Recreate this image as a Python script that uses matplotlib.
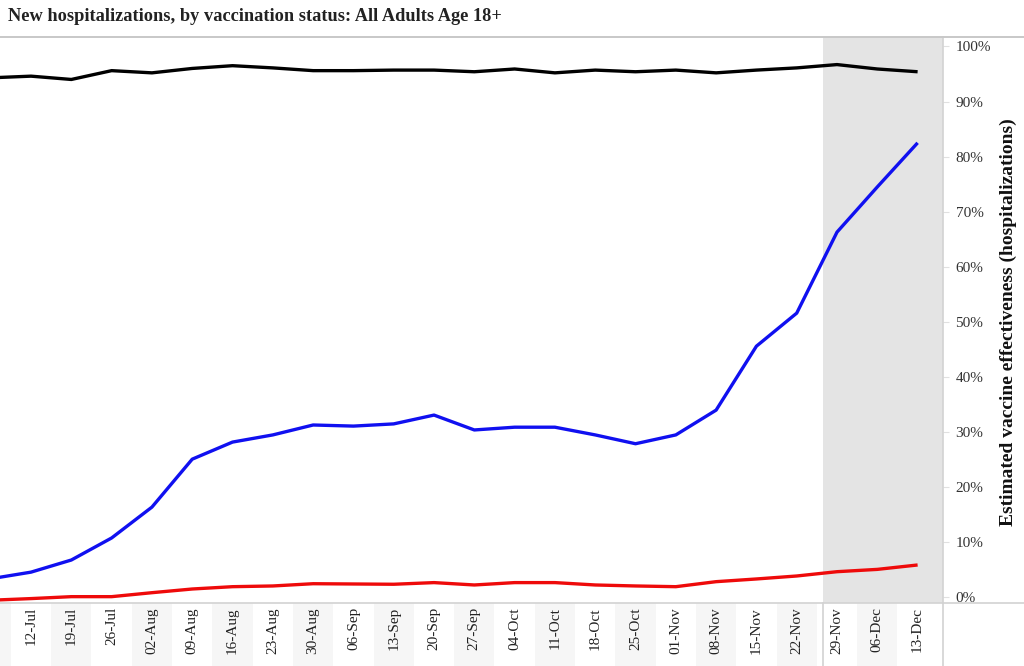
import matplotlib
matplotlib.use("Agg")
import matplotlib.pyplot as plt
from matplotlib.lines import Line2D
from matplotlib.patches import Rectangle

# weekly dates, first one (05-Jul) sits just off the left edge
WEEKS = ["05-Jul", "12-Jul", "19-Jul", "26-Jul", "02-Aug", "09-Aug", "16-Aug",
         "23-Aug", "30-Aug", "06-Sep", "13-Sep", "20-Sep", "27-Sep", "04-Oct",
         "11-Oct", "18-Oct", "25-Oct", "01-Nov", "08-Nov", "15-Nov", "22-Nov",
         "29-Nov", "06-Dec", "13-Dec"]

BLACK = [94.3, 94.6, 94.0, 95.6, 95.2, 96.0, 96.5, 96.1, 95.6, 95.6, 95.7, 95.7,
         95.4, 95.9, 95.2, 95.7, 95.4, 95.7, 95.2, 95.7, 96.1, 96.7, 95.9, 95.4]
BLUE = [3.4, 4.6, 6.8, 10.8, 16.4, 25.1, 28.2, 29.5, 31.3, 31.1, 31.5, 33.1,
        30.4, 30.9, 30.9, 29.5, 27.9, 29.5, 34.0, 45.6, 51.6, 66.3, 74.5, 82.5]
RED = [-0.5, -0.2, 0.15, 0.15, 0.87, 1.54, 1.96, 2.09, 2.5, 2.45, 2.4, 2.7,
       2.27, 2.7, 2.7, 2.27, 2.09, 1.96, 2.87, 3.36, 3.9, 4.68, 5.1, 5.9]

PCT_TICKS = list(range(0, 101, 10))
SHADE_FROM = 20.65  # partway between 22-Nov and 29-Nov

SERIF = "Liberation Serif"
GRID = "#d2d2d2"

fig = plt.figure(figsize=(10.24, 6.66), dpi=100)
ax = fig.add_axes([0, 0.0946, 0.9209, 0.8498])

x = list(range(len(WEEKS)))
ax.axvspan(SHADE_FROM, len(WEEKS) - 0.37, color="#e4e4e4", lw=0, zorder=0)
ax.plot(x, BLACK, color="#000000", lw=2.4, solid_capstyle="butt", zorder=3)
ax.plot(x, BLUE, color="#1010f0", lw=2.4, solid_capstyle="butt", zorder=3)
ax.plot(x, RED, color="#ee0a0a", lw=2.4, solid_capstyle="butt", zorder=3)

ax.set_xlim(0.23, len(WEEKS) - 0.37)
ax.set_ylim(-1.0, 101.7)

# alternating light bands behind the date labels
for i in range(0, len(WEEKS), 2):
    ax.add_patch(Rectangle((i - 0.5, -0.12), 1, 0.12, transform=ax.get_xaxis_transform(),
                           color="#f6f6f6", lw=0, clip_on=False, zorder=0))
ax.add_line(Line2D([SHADE_FROM, SHADE_FROM], [-0.12, 0], transform=ax.get_xaxis_transform(),
                   color=GRID, lw=1.2, clip_on=False))

# 05-Jul is cut off at the left edge, so only label from 12-Jul on
ax.set_xticks(x[1:])
ax.set_xticklabels(WEEKS[1:], rotation=90, fontfamily=SERIF, fontsize=11, color="#222")
ax.tick_params(axis="x", length=0, pad=3)

ax.yaxis.tick_right()
ax.set_yticks(PCT_TICKS)
ax.set_yticklabels([f"{t}%" for t in PCT_TICKS], fontfamily=SERIF, fontsize=11, color="#333")
ax.tick_params(axis="y", length=4, width=0.8, color="#e0e0e0", pad=5)

for s in ("top", "left", "bottom"):
    ax.spines[s].set_visible(False)
ax.spines["right"].set_color(GRID)
ax.spines["right"].set_linewidth(1.2)

# frame lines that run the full width of the figure
fig.add_artist(Line2D([0, 1], [0.9444, 0.9444], color="#c8c8c8", lw=1.4))
fig.add_artist(Line2D([0, 1], [0.0946, 0.0946], color=GRID, lw=1.2))
fig.add_artist(Line2D([0.9209, 0.9209], [0, 0.0946], color=GRID, lw=1.2))

fig.text(0.008, 0.975, "New hospitalizations, by vaccination status: All Adults Age 18+",
         fontfamily=SERIF, fontweight="bold", fontsize=13.2, color="#222", va="center")
fig.text(0.985, 0.5165, "Estimated vaccine effectiveness (hospitalizations)",
         fontfamily=SERIF, fontweight="bold", fontsize=14, color="#111",
         rotation=90, ha="center", va="center")

fig.savefig("out.png", dpi=100)
